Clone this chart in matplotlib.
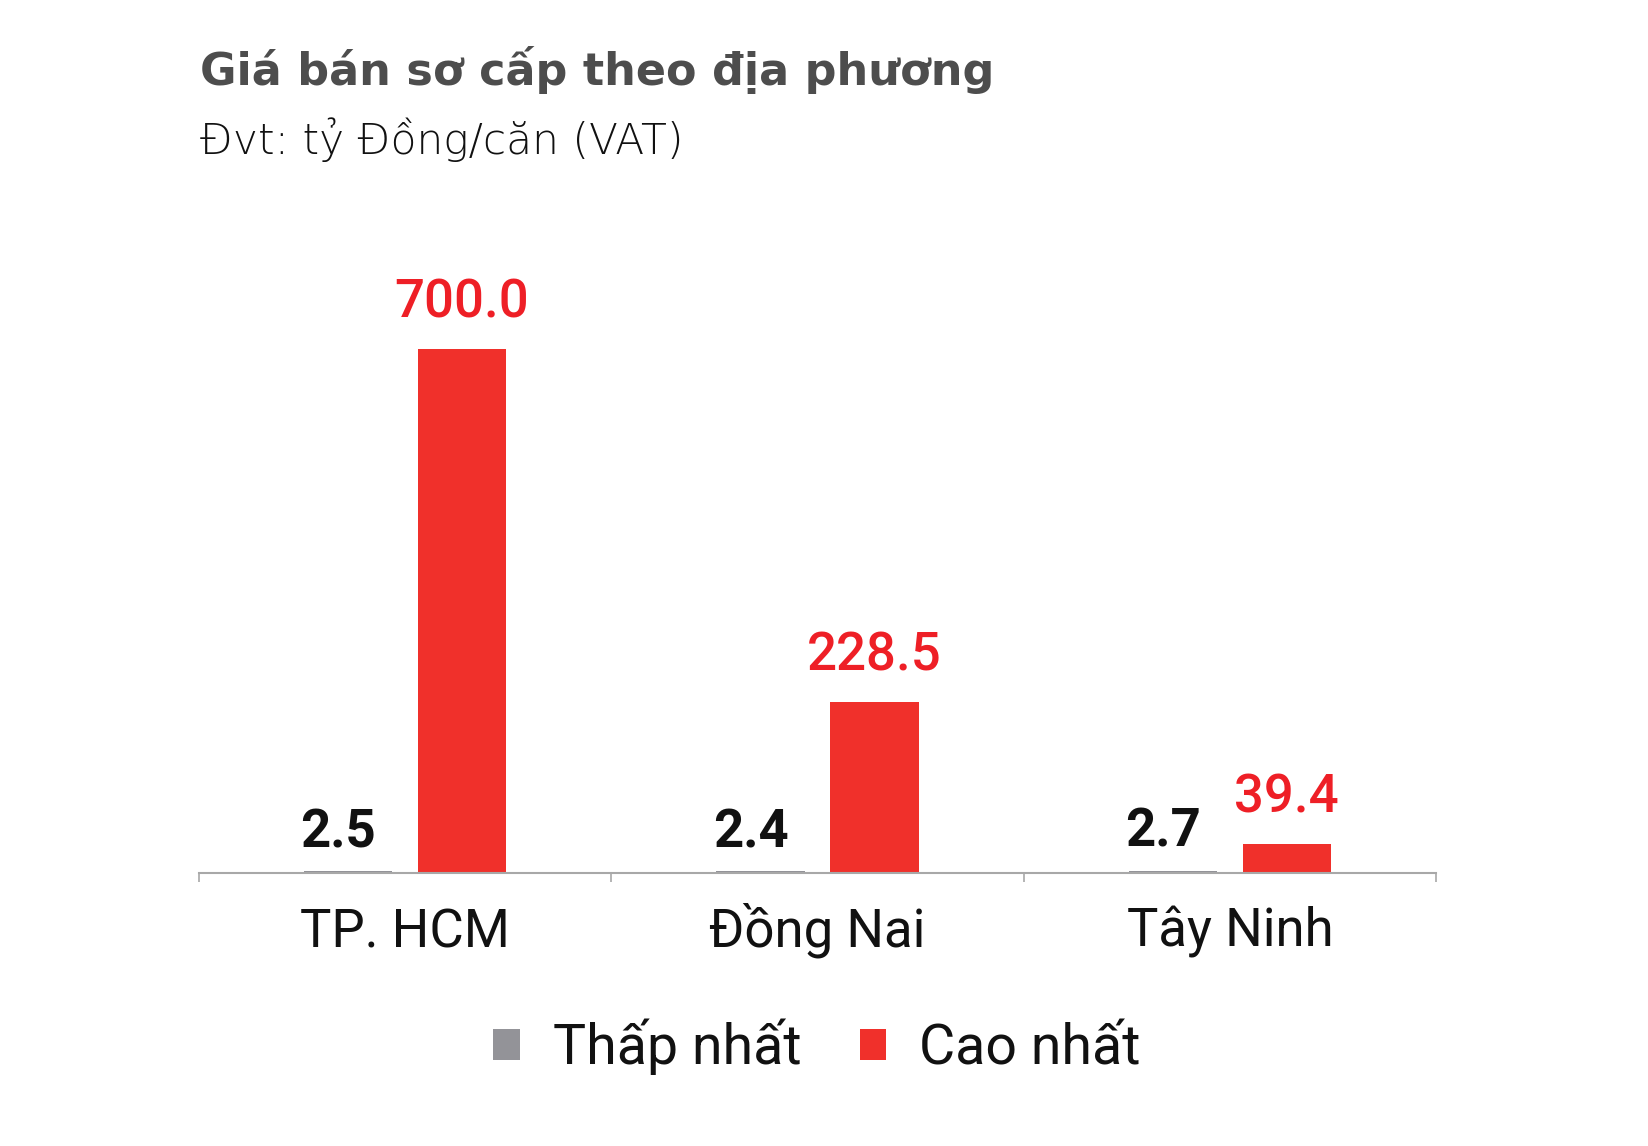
import matplotlib
matplotlib.use("Agg")
import matplotlib.pyplot as plt
import numpy as np

categories = ["TP. HCM", "Đồng Nai", "Tây Ninh"]
series_names = ["Thấp nhất", "Cao nhất"]
low_values = [2.5, 2.4, 2.7]
high_values = [700.0, 228.5, 39.4]

FONT = "Roboto"
GRAY = "#939398"
RED = "#f0302b"
RED_TXT = "#ee1f26"

W, H = 1648, 1146
fig = plt.figure(figsize=(W / 100, H / 100), dpi=100)
fig.patch.set_facecolor("white")

px2pt = 72 / 100

ax_left, ax_right = 199, 1436
ax_base = 873
ymax = 900
ax_h = ymax * (873 - 349) / 700
ax = fig.add_axes([ax_left / W, (H - ax_base) / H, (ax_right - ax_left) / W, ax_h / H])

x = np.arange(len(categories))
bw = 0.214
off = 0.138
ax.bar(x - off, low_values, width=bw, color=GRAY, label=series_names[0], zorder=3)
ax.bar(x + off, high_values, width=bw, color=RED, label=series_names[1], zorder=3)

ax.set_xlim(-0.5, len(categories) - 0.5)
ax.set_ylim(0, ymax)

for sp in ["top", "right", "left"]:
    ax.spines[sp].set_visible(False)
ax.spines["bottom"].set_color("#a8a8a8")
ax.spines["bottom"].set_linewidth(1.5)
ax.spines["bottom"].set_zorder(4)
ax.set_yticks([])
ax.set_xticks(np.arange(-0.5, len(categories), 1.0))
ax.set_xticklabels([])
ax.tick_params(axis="x", length=6.5, width=1.2, color="#a8a8a8", direction="out")

for i, v in enumerate(low_values):
    ax.annotate(f"{v:.1f}", xy=(x[i] - off, v), xytext=(-10 * px2pt, 24 * px2pt),
                textcoords="offset points", ha="center", va="baseline",
                fontsize=38, family=FONT, fontweight="bold", color="#111111")
for i, v in enumerate(high_values):
    ax.annotate(f"{v:.1f}", xy=(x[i] + off, v), xytext=(0, 31 * px2pt),
                textcoords="offset points", ha="center", va="baseline",
                fontsize=38, family=FONT, fontweight="medium", color=RED_TXT)

for i, c in enumerate(categories):
    ax.annotate(c, xy=(x[i], 0), xycoords=("data", "axes fraction"),
                xytext=(0, -74 * px2pt), textcoords="offset points",
                ha="center", va="baseline", fontsize=38, family=FONT,
                color="#111111")

fig.text(200 / W, 1 - 85 / H, "Giá bán sơ cấp theo địa phương", fontsize=32,
         family="DejaVu Sans", fontweight="bold", color="#4d4d4d", va="baseline", ha="left")
fig.text(200 / W, 1 - 154 / H, "Đvt: tỷ Đồng/căn (VAT)", fontsize=30.5,
         family="DejaVu Sans", fontweight="light", color="#111111", va="baseline", ha="left")

leg = fig.legend(loc="center", bbox_to_anchor=(817 / W, 1 - 1047 / H), ncol=2,
                 frameon=False, prop={"family": FONT, "size": 40},
                 handlelength=0.47, handleheight=0.47, handletextpad=0.6,
                 columnspacing=1.05, borderaxespad=0, borderpad=0)
for t in leg.get_texts():
    t.set_color("#111111")

fig.savefig("out.png", dpi=100, facecolor="white")
